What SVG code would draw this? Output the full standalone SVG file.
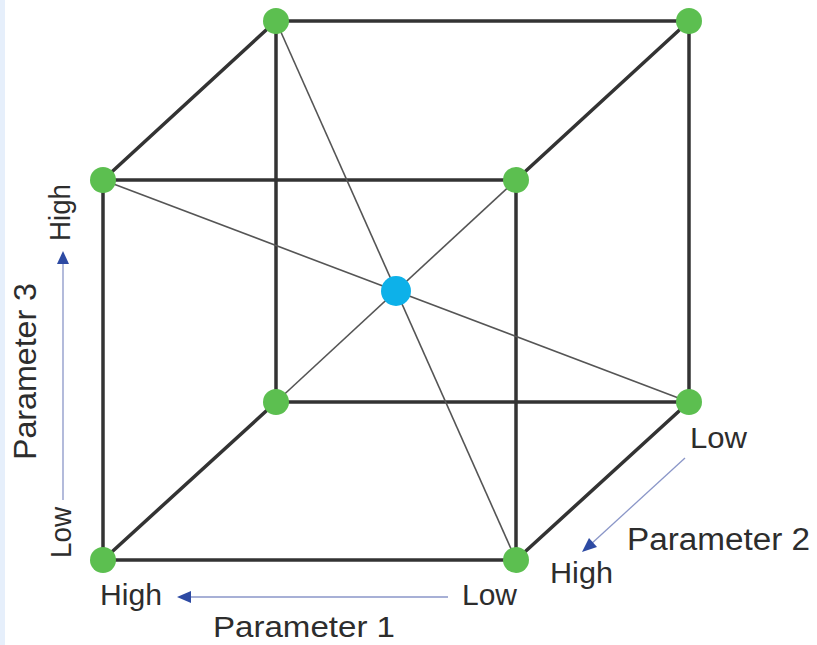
<svg xmlns="http://www.w3.org/2000/svg" width="817" height="645" viewBox="0 0 817 645">
<defs>
<style>
.edge{stroke:#333;stroke-width:3.5;stroke-linecap:round;fill:none}
.diag{stroke:#555;stroke-width:1.6;fill:none}
.vtx{fill:#5cbf50}
.ctr{fill:#0db1e9}
.lbl{font-family:"Liberation Sans",Arial,sans-serif;fill:#2d2d2d}
.small{font-size:29px}
.big{font-size:31px}
.axis{stroke:#8a96c8;stroke-width:1.3;fill:none}
.head{fill:#2d4aa3}
</style>
</defs>
<rect x="0" y="0" width="817" height="645" fill="#ffffff"/>
<rect x="0" y="0" width="5" height="645" fill="#e6effb"/>
<g id="connectors">
<line class="edge" x1="103" y1="180" x2="516" y2="180"/>
<line class="edge" x1="103" y1="560" x2="516" y2="560"/>
<line class="edge" x1="103" y1="180" x2="103" y2="560"/>
<line class="edge" x1="516" y1="180" x2="516" y2="560"/>
<line class="edge" x1="276" y1="21" x2="689" y2="21"/>
<line class="edge" x1="276" y1="402" x2="689" y2="402"/>
<line class="edge" x1="276" y1="21" x2="276" y2="402"/>
<line class="edge" x1="689" y1="21" x2="689" y2="402"/>
<line class="edge" x1="103" y1="180" x2="276" y2="21"/>
<line class="edge" x1="516" y1="180" x2="689" y2="21"/>
<line class="edge" x1="103" y1="560" x2="276" y2="402"/>
<line class="edge" x1="516" y1="560" x2="689" y2="402"/>
<line class="diag" x1="103" y1="180" x2="689" y2="402"/>
<line class="diag" x1="276" y1="21" x2="516" y2="560"/>
<line class="diag" x1="276" y1="402" x2="516" y2="180" stroke="#666"/>
</g>
<g id="v-front-tl"><circle class="vtx" cx="103" cy="180" r="13"/></g>
<g id="v-front-tr"><circle class="vtx" cx="516" cy="180" r="13"/></g>
<g id="v-front-bl"><circle class="vtx" cx="103" cy="560" r="13"/></g>
<g id="v-front-br"><circle class="vtx" cx="516" cy="560" r="13"/></g>
<g id="v-back-tl"><circle class="vtx" cx="276" cy="21" r="13"/></g>
<g id="v-back-tr"><circle class="vtx" cx="689" cy="21" r="13"/></g>
<g id="v-back-bl"><circle class="vtx" cx="276" cy="402" r="13"/></g>
<g id="v-back-br"><circle class="vtx" cx="689" cy="402" r="13"/></g>
<g id="center"><circle class="ctr" cx="396" cy="291" r="15"/></g>
<g id="axis-1">
<line class="axis" x1="448" y1="597" x2="188" y2="597"/>
<polygon class="head" points="177,597 191,591 191,603"/>
<text class="lbl small" x="100" y="605" textLength="62" lengthAdjust="spacingAndGlyphs">High</text>
<text class="lbl small" x="462" y="605" textLength="55" lengthAdjust="spacingAndGlyphs">Low</text>
<text class="lbl" style="font-size:29px" x="213" y="637" textLength="182" lengthAdjust="spacingAndGlyphs">Parameter 1</text>
</g>
<g id="axis-2">
<line class="axis" x1="685" y1="458" x2="590" y2="545"/>
<polygon class="head" points="582,552 589,538 597,547"/>
<text class="lbl small" x="690" y="448" textLength="57" lengthAdjust="spacingAndGlyphs">Low</text>
<text class="lbl small" x="550" y="583" textLength="63" lengthAdjust="spacingAndGlyphs">High</text>
<text class="lbl big" x="627" y="550" textLength="183" lengthAdjust="spacingAndGlyphs">Parameter 2</text>
</g>
<g id="axis-3">
<line class="axis" x1="63" y1="500" x2="63" y2="262"/>
<polygon class="head" points="63,251 57,264 69,264"/>
<text class="lbl small" transform="translate(70,241) rotate(-90)" textLength="57" lengthAdjust="spacingAndGlyphs">High</text>
<text class="lbl big" transform="translate(36,460) rotate(-90)" textLength="177" lengthAdjust="spacingAndGlyphs">Parameter 3</text>
<text class="lbl small" transform="translate(71,558) rotate(-90)" textLength="51" lengthAdjust="spacingAndGlyphs">Low</text>
</g>
</svg>
